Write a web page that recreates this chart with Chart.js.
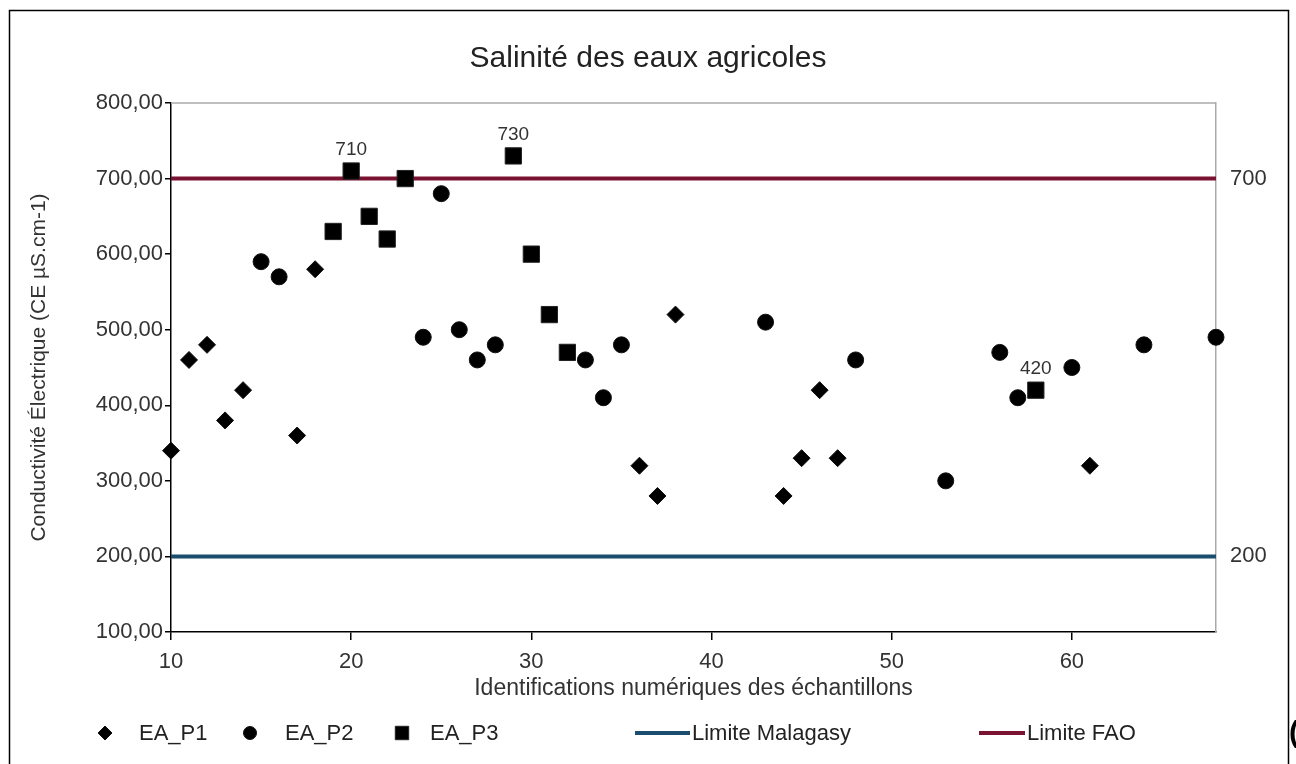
<!DOCTYPE html>
<html>
<head>
<meta charset="utf-8">
<script src="https://cdn.jsdelivr.net/npm/chart.js@4/dist/chart.umd.min.js"></script>
<style>
  html, body { margin: 0; padding: 0; background: #fff; }
  canvas { display: block; }
</style>
</head>
<body>
<canvas id="c" width="1296" height="764"></canvas>
<script>
// ---- Data ----
const seriesNames = ['EA_P1', 'EA_P2', 'EA_P3'];
const p1X = [10, 11, 12, 13, 14, 17, 18, 36, 37, 38, 44, 45, 46, 47, 61];
const p1Y = [340, 460, 480, 380, 420, 360, 580, 320, 280, 520, 280, 330, 420, 330, 320];
const p2X = [15, 16, 24, 25, 26, 27, 28, 33, 34, 35, 43, 48, 53, 56, 57, 60, 64, 68];
const p2Y = [590, 570, 490, 680, 500, 460, 480, 460, 410, 480, 510, 460, 300, 470, 410, 450, 480, 490];
const p3X = [19, 20, 21, 22, 23, 29, 30, 31, 32, 58];
const p3Y = [630, 710, 650, 620, 700, 730, 600, 520, 470, 420];
const p3Labelled = [20, 29, 58];
const limitNames = ['Limite Malagasy', 'Limite FAO'];
const limitMalagasy = 200;
const limitFAO = 700;
const xRange = [10, 68];
const yRange = [100, 800];
const xTicks = [10, 20, 30, 40, 50, 60];
const yTicks = [100, 200, 300, 400, 500, 600, 700, 800];
const limitTicks = [200, 700];
const chartTitle = 'Salinité des eaux agricoles';
const xTitle = 'Identifications numériques des échantillons';
const yTitle = 'Conductivité Électrique (CE µS.cm-1)';

const FONT = "'Liberation Sans', Arial, sans-serif";
const zip = (xs, ys) => xs.map((x, i) => ({ x: x, y: ys[i] }));

const datasets = [
  { label: seriesNames[0], data: zip(p1X, p1Y), pointStyle: 'rectRot', pointRadius: 8.5,
    backgroundColor: '#000', borderColor: '#111', borderWidth: 1, clip: false },
  { label: seriesNames[1], data: zip(p2X, p2Y), pointStyle: 'circle', pointRadius: 8,
    backgroundColor: '#000', borderColor: '#111', borderWidth: 1, clip: false },
  { label: seriesNames[2], data: zip(p3X, p3Y), pointStyle: 'rect', pointRadius: 11.5,
    backgroundColor: '#000', borderColor: '#222', borderWidth: 1, clip: false },
  { label: limitNames[0], data: [{ x: xRange[0], y: limitMalagasy }, { x: xRange[1], y: limitMalagasy }],
    showLine: true, pointRadius: 0, borderColor: '#1a4d6e', borderWidth: 4, backgroundColor: '#1a4d6e' },
  { label: limitNames[1], data: [{ x: xRange[0], y: limitFAO }, { x: xRange[1], y: limitFAO }],
    showLine: true, pointRadius: 0, borderColor: '#7a1232', borderWidth: 4, backgroundColor: '#7a1232' }
];

const framePlugin = {
  id: 'frame',
  beforeDraw(chart) {
    const ctx = chart.ctx;
    ctx.save();
    ctx.fillStyle = '#fff';
    ctx.fillRect(0, 0, chart.width, chart.height);
    ctx.strokeStyle = '#000';
    ctx.lineWidth = 1.5;
    ctx.strokeRect(9.5, 10.5, 1279, 800);
    ctx.restore();
  },
  beforeDatasetsDraw(chart) {
    const a = chart.chartArea, ctx = chart.ctx;
    ctx.save();
    ctx.strokeStyle = '#aaa';
    ctx.lineWidth = 1.5;
    ctx.beginPath();
    ctx.moveTo(a.left, a.top);
    ctx.lineTo(a.right, a.top);
    ctx.stroke();
    ctx.restore();
  }
};

const labelPlugin = {
  id: 'pointLabels',
  afterDatasetsDraw(chart) {
    const ctx = chart.ctx;
    const meta = chart.getDatasetMeta(2);
    const ds = chart.data.datasets[2];
    ctx.save();
    ctx.font = '19px ' + FONT;
    ctx.fillStyle = '#333';
    ctx.textAlign = 'center';
    ctx.textBaseline = 'middle';
    ds.data.forEach((p, i) => {
      if (p3Labelled.includes(p.x)) {
        const el = meta.data[i];
        ctx.fillText(String(p.y), el.x, el.y - 21);
      }
    });
    ctx.restore();
  }
};

const legendPlugin = {
  id: 'customLegend',
  afterDraw(chart) {
    const ctx = chart.ctx;
    const y = 733;
    const items = [
      { ds: 0, mx: 105, tx: 139, r: 7 },
      { ds: 1, mx: 250, tx: 285, r: 6.5 },
      { ds: 2, mx: 402, tx: 430, r: 9.5 },
      { ds: 3, lx: [635, 690], tx: 692 },
      { ds: 4, lx: [979, 1025], tx: 1027 }
    ];
    ctx.save();
    ctx.font = '22px ' + FONT;
    ctx.textBaseline = 'middle';
    ctx.textAlign = 'left';
    items.forEach(it => {
      const d = chart.data.datasets[it.ds];
      if (it.lx) {
        ctx.strokeStyle = d.borderColor;
        ctx.lineWidth = 4;
        ctx.beginPath();
        ctx.moveTo(it.lx[0], y);
        ctx.lineTo(it.lx[1], y);
        ctx.stroke();
      } else {
        ctx.fillStyle = d.backgroundColor;
        ctx.strokeStyle = d.borderColor;
        Chart.helpers.drawPoint(ctx, { pointStyle: d.pointStyle, radius: it.r, rotation: 0, borderWidth: 1 }, it.mx, y);
      }
      ctx.fillStyle = '#222';
      ctx.fillText(d.label, it.tx, y + 1);
    });
    // cut-off glyph at the right edge of the reference page
    ctx.font = 'bold 30px ' + FONT;
    ctx.fillStyle = '#000';
    ctx.fillText('(', 1289, y + 1);
    ctx.restore();
  }
};

new Chart(document.getElementById('c'), {
  type: 'scatter',
  data: { datasets: datasets },
  plugins: [framePlugin, labelPlugin, legendPlugin],
  options: {
    responsive: false,
    animation: false,
    devicePixelRatio: 1,
    layout: { padding: { left: 0, right: 0, top: 0, bottom: 62 } },
    plugins: {
      legend: { display: false },
      tooltip: { enabled: false },
      title: {
        display: true, text: chartTitle, color: '#222',
        font: { family: FONT, size: 30, weight: 'normal' },
        padding: { top: 41, bottom: 26 }
      }
    },
    scales: {
      x: {
        type: 'linear', position: 'bottom', min: xRange[0], max: xRange[1],
        afterBuildTicks: s => { s.ticks = xTicks.map(v => ({ value: v })); },
        afterFit: s => { s.height = 70; },
        grid: { drawOnChartArea: false, drawTicks: true, tickLength: 8, color: '#000', lineWidth: 1.5 },
        border: { color: '#000', width: 1.5 },
        ticks: { color: '#333', font: { family: FONT, size: 22 }, padding: 9, maxRotation: 0 },
        title: { display: true, text: xTitle, color: '#333', font: { family: FONT, size: 23 }, padding: { top: 0, bottom: 0 } }
      },
      y: {
        type: 'linear', position: 'left', min: yRange[0], max: yRange[1],
        afterBuildTicks: s => { s.ticks = yTicks.map(v => ({ value: v })); },
        afterFit: s => { s.width = 171; },
        grid: { drawOnChartArea: false, drawTicks: true, tickLength: 6, color: '#000', lineWidth: 1.5 },
        border: { color: '#000', width: 1.5 },
        ticks: { color: '#333', font: { family: FONT, size: 22 }, padding: 2,
                 callback: v => v.toFixed(2).replace('.', ',') },
        title: { display: true, text: yTitle, color: '#333', font: { family: FONT, size: 21 }, padding: { top: 27, bottom: 0 } }
      },
      y2: {
        type: 'linear', position: 'right', min: yRange[0], max: yRange[1],
        afterBuildTicks: s => { s.ticks = limitTicks.map(v => ({ value: v })); },
        afterFit: s => { s.width = 80; },
        grid: { drawOnChartArea: false, drawTicks: false },
        border: { color: '#aaa', width: 1.5 },
        ticks: { color: '#333', font: { family: FONT, size: 22 }, padding: 14, callback: v => String(v) }
      }
    }
  }
});
</script>
</body>
</html>
